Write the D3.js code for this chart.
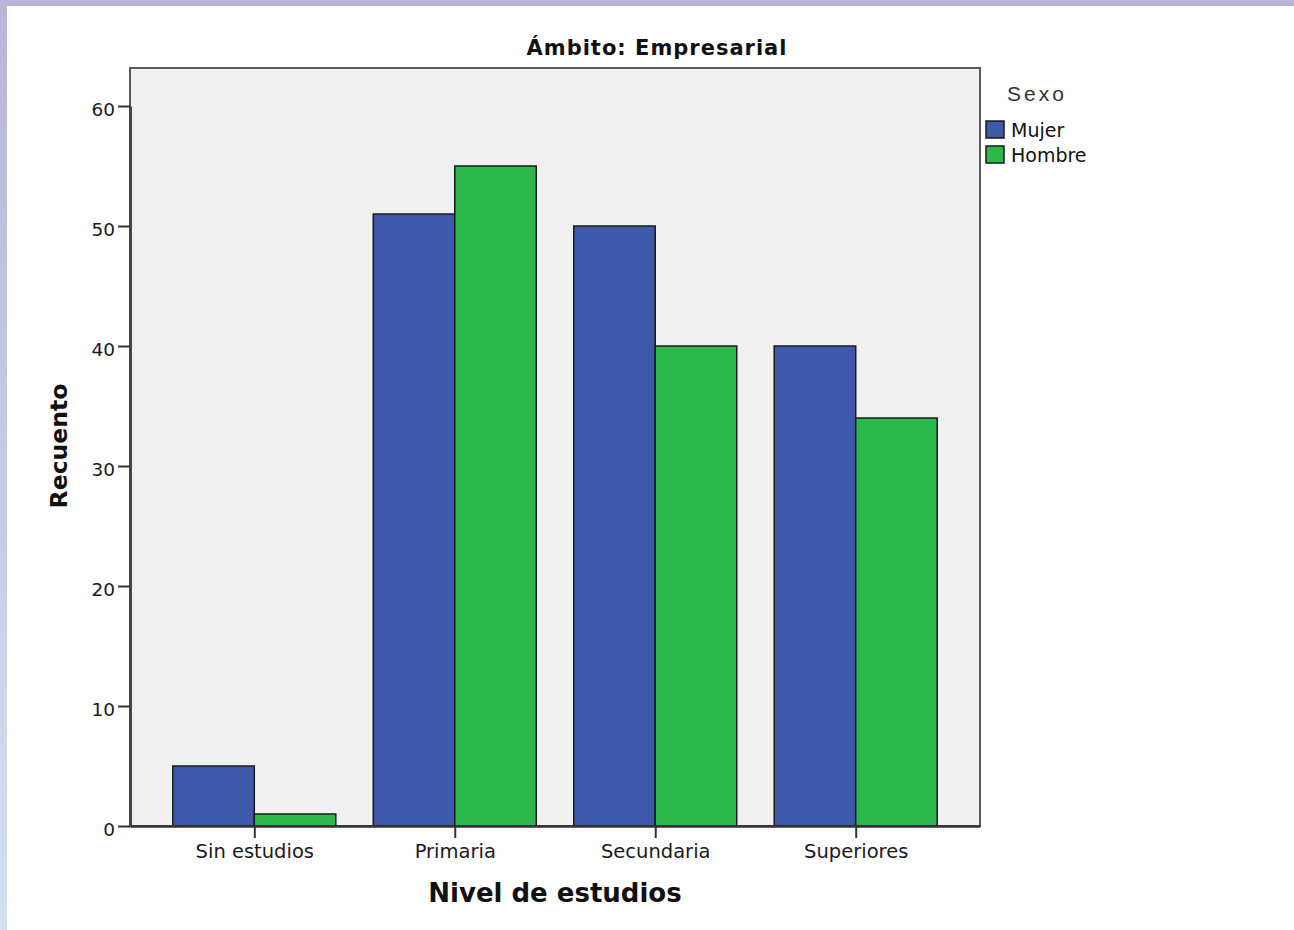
<!DOCTYPE html>
<html>
<head>
<meta charset="utf-8">
<script src="https://cdn.jsdelivr.net/npm/d3@7"></script>
<style>
  html, body { margin: 0; padding: 0; background: #fff; }
  svg { display: block; }
</style>
</head>
<body>
<script>
// ---- data ----
const categories = ["Sin estudios", "Primaria", "Secundaria", "Superiores"];
const seriesNames = ["Mujer", "Hombre"];
const mujer = [5, 51, 50, 40];
const hombre = [1, 55, 40, 34];
const yTicks = [0, 10, 20, 30, 40, 50, 60];
const chartTitle = "Ámbito: Empresarial";
const xTitle = "Nivel de estudios";
const yTitle = "Recuento";
const legendTitle = "Sexo";
const colors = ["#3e58ac", "#2db84c"];

const W = 1294, H = 930;
const plot = { left: 130, right: 980, top: 68, bottom: 826 };

const svg = d3.select("body").append("svg").attr("width", W).attr("height", H);

// frame strips
const defs = svg.append("defs");
const grad = defs.append("linearGradient").attr("id", "lg").attr("x1", 0).attr("y1", 0).attr("x2", 0).attr("y2", 1);
grad.append("stop").attr("offset", "0%").attr("stop-color", "#b9b5d9");
grad.append("stop").attr("offset", "100%").attr("stop-color", "#d4dff2");
svg.append("rect").attr("x", 0).attr("y", 0).attr("width", 7).attr("height", H).attr("fill", "url(#lg)");
svg.append("rect").attr("x", 0).attr("y", 0).attr("width", W).attr("height", 6).attr("fill", "#b9b5d9");

// scales
const y = d3.scaleLinear().domain([0, 60]).range([plot.bottom, plot.bottom - 720]);
const x = d3.scalePoint().domain(categories).range([plot.left, plot.right]).padding(0.62);
const barW = 81.5;
const xs = d3.scaleBand().domain(seriesNames).range([-barW, barW]).padding(0);

// plot background
svg.append("rect")
  .attr("x", plot.left).attr("y", plot.top)
  .attr("width", plot.right - plot.left).attr("height", plot.bottom - plot.top)
  .attr("fill", "#f0f0f0").attr("stroke", "#5a5a5a").attr("stroke-width", 2);

// bars
const rows = categories.map((c, i) => ({ cat: c, vals: [mujer[i], hombre[i]] }));
const g = svg.append("g");
rows.forEach(r => {
  r.vals.forEach((v, j) => {
    g.append("rect")
      .attr("x", x(r.cat) + xs(seriesNames[j]))
      .attr("y", y(v))
      .attr("width", xs.bandwidth())
      .attr("height", y(0) - y(v))
      .attr("fill", colors[j])
      .attr("stroke", "#1a1a1a")
      .attr("stroke-width", 1.5);
  });
});

// y axis
const yAxis = d3.axisLeft(y).tickValues(yTicks).tickSize(12).tickSizeOuter(0).tickPadding(3);
const ya = svg.append("g").attr("transform", `translate(${plot.left},0)`).call(yAxis);
ya.select(".domain").attr("stroke", "#444").attr("stroke-width", 3);
ya.selectAll(".tick line").attr("stroke", "#333").attr("stroke-width", 2);
ya.selectAll(".tick text").attr("font-family", "DejaVu Sans").attr("font-size", 18.5).attr("fill", "#1a1a1a").attr("dy", "0.5em");

// x axis
const xAxis = d3.axisBottom(x).tickSize(12).tickSizeOuter(0).tickPadding(3);
const xa = svg.append("g").attr("transform", `translate(0,${plot.bottom})`).call(xAxis);
xa.select(".domain").attr("stroke", "#333").attr("stroke-width", 2.5);
xa.selectAll(".tick line").attr("stroke", "#333").attr("stroke-width", 2);
xa.selectAll(".tick text").attr("font-family", "DejaVu Sans").attr("font-size", 19.5).attr("fill", "#1a1a1a").attr("dy", "0.85em");

// titles
svg.append("text").attr("x", 657).attr("y", 55).attr("text-anchor", "middle")
  .attr("font-family", "DejaVu Sans").attr("font-weight", "bold").attr("font-size", 21)
  .attr("letter-spacing", 1).attr("fill", "#111").text(chartTitle);
svg.append("text").attr("x", 555).attr("y", 902).attr("text-anchor", "middle")
  .attr("font-family", "DejaVu Sans").attr("font-weight", "bold").attr("font-size", 26)
  .attr("fill", "#111").text(xTitle);
svg.append("text").attr("transform", "translate(67,446) rotate(-90)").attr("text-anchor", "middle")
  .attr("font-family", "DejaVu Sans").attr("font-weight", "bold").attr("font-size", 23.5)
  .attr("fill", "#111").text(yTitle);

// legend
svg.append("text").attr("x", 1007).attr("y", 101)
  .attr("font-family", "Liberation Sans").attr("font-size", 21).attr("letter-spacing", 3)
  .attr("fill", "#333").text(legendTitle);
const lg = svg.append("g");
seriesNames.forEach((s, i) => {
  const yy = 121 + i * 25;
  lg.append("rect").attr("x", 986).attr("y", yy).attr("width", 18).attr("height", 17)
    .attr("fill", colors[i]).attr("stroke", "#1a1a1a").attr("stroke-width", 1.5);
  lg.append("text").attr("x", 1011).attr("y", yy + 16)
    .attr("font-family", "DejaVu Sans").attr("font-size", 19).attr("fill", "#111").text(s);
});
</script>
</body>
</html>
